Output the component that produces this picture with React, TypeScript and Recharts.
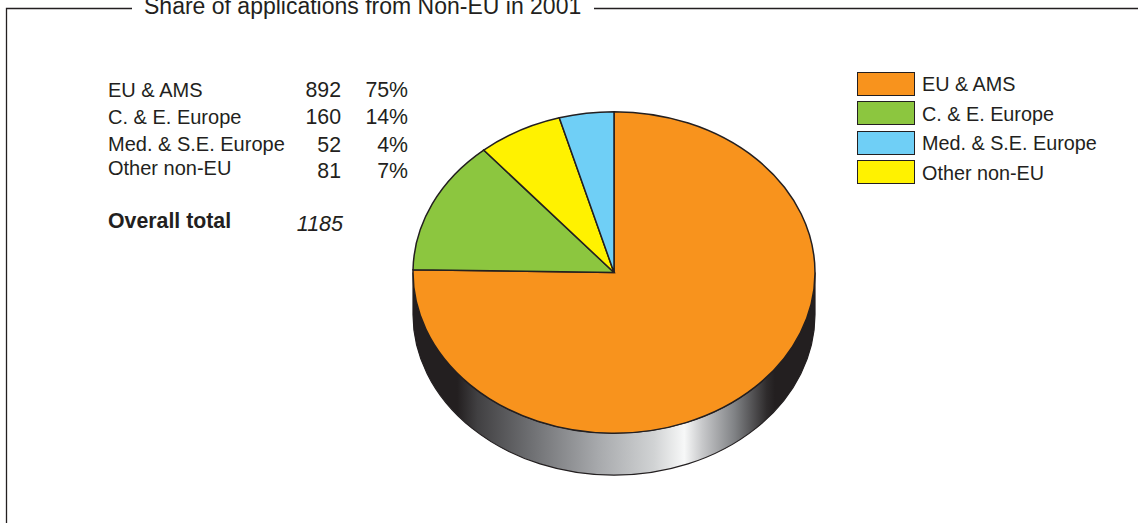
import { Legend, Pie, PieChart } from "recharts";

const INK = "#231f20";
const FONT = '"Liberation Sans", Arial, sans-serif';

// table + legend order
const categories = ["EU & AMS", "C. & E. Europe", "Med. & S.E. Europe", "Other non-EU"];
const applications = [892, 160, 52, 81];
const shares = ["75%", "14%", "4%", "7%"];
const colors = ["#f8931d", "#8cc63f", "#6fcff6", "#fff200"];
const overallTotal = 1185;

// the pie runs in another order than the table
const sliceOrder = [0, 1, 3, 2];

const slices = sliceOrder.map((i) => ({
  name: categories[i],
  value: applications[i],
  fill: colors[i],
}));

const rimStops: [string, string][] = [
  ["0%", INK],
  ["11%", INK],
  ["16%", "#414042"],
  ["29%", "#6d6e71"],
  ["46%", "#a7a9ac"],
  ["60%", "#d1d3d4"],
  ["67.5%", "#f7f8f8"],
  ["72%", "#c7c8ca"],
  ["80%", "#808285"],
  ["88%", "#2e2b2c"],
  ["90%", INK],
  ["100%", INK],
];

const SQUASH = 0.8;
const DEPTH = 42;

function EllipseSlice(props: any) {
  const { cx, cy, outerRadius: r, startAngle, endAngle, fill } = props;
  const ry = r * SQUASH;
  const at = (deg: number) => {
    const a = (deg * Math.PI) / 180;
    return `${cx + r * Math.cos(a)} ${cy - ry * Math.sin(a)}`;
  };
  const large = Math.abs(endAngle - startAngle) > 180 ? 1 : 0;
  return (
    <path
      d={`M ${cx} ${cy} L ${at(startAngle)} A ${r} ${ry} 0 ${large} 1 ${at(endAngle)} Z`}
      fill={fill}
      stroke={INK}
      strokeWidth={1.5}
      strokeLinejoin="miter"
    />
  );
}

function PieRim(props: any) {
  const { cx, cy, outerRadius: r } = props;
  const ry = r * SQUASH;
  return (
    <path
      d={`M ${cx - r} ${cy} L ${cx - r} ${cy + DEPTH} A ${r} ${ry} 0 0 0 ${cx + r} ${cy + DEPTH} L ${cx + r} ${cy} A ${r} ${ry} 0 0 1 ${cx - r} ${cy} Z`}
      fill="url(#rimShade)"
      stroke={INK}
      strokeWidth={1.2}
    />
  );
}

function SwatchLegend() {
  return (
    <div style={{ fontFamily: FONT, fontSize: 19.8, color: INK }}>
      {categories.map((c, i) => (
        <div key={c} style={{ display: "flex", alignItems: "center", height: 29.5 }}>
          <span
            style={{
              display: "block",
              boxSizing: "border-box",
              width: 58,
              height: 24,
              background: colors[i],
              border: `1.5px solid ${INK}`,
              marginRight: 7,
            }}
          />
          <span style={{ whiteSpace: "nowrap", position: "relative", top: 1 }}>{c}</span>
        </div>
      ))}
    </div>
  );
}

const rowY = [97, 124, 151, 175];
const numberY = [97, 124, 152, 178];

export default function App() {
  return (
    <div style={{ position: "absolute", left: 0, top: 0, width: 1138, height: 523, background: "#fff" }}>
      <PieChart width={1138} height={523} margin={{ top: 0, right: 0, bottom: 0, left: 0 }}>
        <defs>
          <linearGradient id="rimShade" x1="0" y1="0" x2="1" y2="0">
            {rimStops.map(([offset, color]) => (
              <stop key={offset} offset={offset} stopColor={color} />
            ))}
          </linearGradient>
        </defs>

        <path d="M 6.5 523 L 6.5 8.5 L 132 8.5 M 594 8.5 L 1138 8.5" fill="none" stroke={INK} strokeWidth={1.3} />
        <text x={144} y={14} fontFamily={FONT} fontSize={23} fill={INK}>
          Share of applications from Non-EU in 2001
        </text>

        {categories.map((c, i) => (
          <g key={c} fontFamily={FONT} fill={INK}>
            <text x={108} y={rowY[i]} fontSize={20}>{c}</text>
            <text x={341} y={numberY[i]} fontSize={21.3} textAnchor="end">{applications[i]}</text>
            <text x={408} y={numberY[i]} fontSize={21.3} textAnchor="end">{shares[i]}</text>
          </g>
        ))}
        <text x={108} y={228} fontFamily={FONT} fontSize={21.3} fontWeight="bold" fill={INK}>
          Overall total
        </text>
        <text x={343} y={231} fontFamily={FONT} fontSize={21.5} fontStyle="italic" textAnchor="end" fill={INK}>
          {overallTotal}
        </text>

        <Pie
          data={[{ name: "rim", value: overallTotal }]}
          dataKey="value"
          cx={614}
          cy={272.5}
          outerRadius={201}
          startAngle={90}
          endAngle={-270}
          shape={PieRim}
          legendType="none"
          isAnimationActive={false}
        />
        <Pie
          data={slices}
          dataKey="value"
          cx={614}
          cy={272.5}
          outerRadius={201}
          startAngle={90}
          endAngle={-270}
          shape={EllipseSlice}
          isAnimationActive={false}
        />
        <Legend
          content={<SwatchLegend />}
          layout="vertical"
          wrapperStyle={{ position: "absolute", left: 857, top: 69, width: 270, bottom: "auto" }}
        />
      </PieChart>
    </div>
  );
}
